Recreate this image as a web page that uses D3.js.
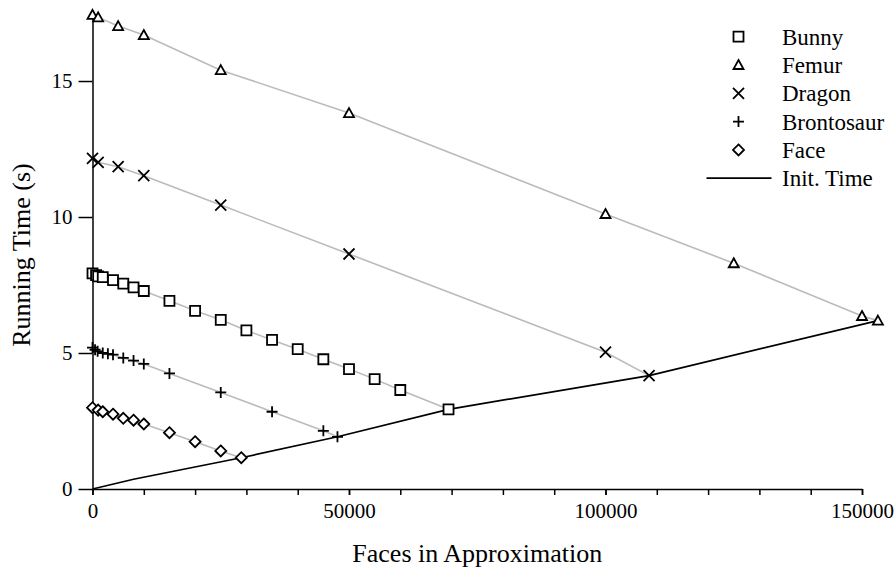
<!DOCTYPE html>
<html>
<head>
<meta charset="utf-8">
<script src="https://cdn.jsdelivr.net/npm/d3@7"></script>
<style>
  body { margin: 0; background: #fff; }
  svg text { fill: #000; }
  .axis path, .axis line { stroke: #000; stroke-width: 1.5; }
  .series-line { fill: none; stroke: #bbbbbb; stroke-width: 1.6; }
  .init-line { fill: none; stroke: #000; stroke-width: 1.7; }
  .marker { fill: #fff; stroke: #000; stroke-width: 1.8; }
</style>
</head>
<body>
<div id="chart"></div>
<script>
// values
var bunnyX = [0, 700, 1100, 2000, 4000, 6000, 8000, 10000, 15000, 20000, 25000, 30000, 35000, 40000, 45000, 50000, 55000, 60000, 69400];
var bunnyY = [7.93, 7.86, 7.82, 7.79, 7.68, 7.55, 7.41, 7.28, 6.92, 6.55, 6.22, 5.83, 5.48, 5.14, 4.77, 4.41, 4.04, 3.64, 2.93];

var femurX = [0, 1100, 5000, 10000, 25000, 50000, 100000, 125000, 150000, 153100];
var femurY = [17.43, 17.34, 17.02, 16.69, 15.40, 13.82, 10.11, 8.30, 6.36, 6.19];

var dragonX = [0, 1100, 5000, 10000, 25000, 50000, 100000, 108500];
var dragonY = [12.16, 12.01, 11.85, 11.52, 10.44, 8.64, 5.03, 4.17];

var brontoX = [0, 500, 1000, 2000, 3000, 4000, 6000, 8000, 10000, 15000, 25000, 35000, 45000, 47750];
var brontoY = [5.2, 5.12, 5.06, 5.0, 4.97, 4.94, 4.82, 4.72, 4.6, 4.25, 3.55, 2.84, 2.14, 1.92];

var faceX = [0, 1100, 2000, 4000, 6000, 8000, 10000, 15000, 20000, 25000, 29000];
var faceY = [2.99, 2.9, 2.84, 2.75, 2.6, 2.53, 2.39, 2.07, 1.74, 1.4, 1.15];

var initX = [0, 8000, 29000, 47750, 69400, 108500, 153100];
var initY = [0, 0.36, 1.15, 1.92, 2.93, 4.17, 6.19];

var xTicks = [0, 50000, 100000, 150000];
var xMinorTicks = d3.range(0, 150001, 10000);
var yTicks = [0, 5, 10, 15];

var seriesNames = ["Bunny", "Femur", "Dragon", "Brontosaur", "Face"];
var seriesShapes = ["square", "triangle", "x", "plus", "diamond"];

var series = [
  { name: "Bunny", shape: "square", xs: bunnyX, ys: bunnyY },
  { name: "Femur", shape: "triangle", xs: femurX, ys: femurY },
  { name: "Dragon", shape: "x", xs: dragonX, ys: dragonY },
  { name: "Brontosaur", shape: "plus", xs: brontoX, ys: brontoY },
  { name: "Face", shape: "diamond", xs: faceX, ys: faceY }
];

function zip(xs, ys) { return xs.map(function(x, i) { return [x, ys[i]]; }); }

//marker outlines, centred on 0,0
function markerPath(shape) {
  switch (shape) {
    case "square": return "M-5,-5H5V5H-5Z";
    case "triangle": return "M0,-5L5,4H-5Z";
    case "x": return "M-5.5,-5.5L5.5,5.5M-5.5,5.5L5.5,-5.5";
    case "plus": return "M-5.5,0H5.5M0,-5.5V5.5";
    case "diamond": return "M0,-5.5L5.5,0L0,5.5L-5.5,0Z";
  }
}

var width = 895, height = 571;
var serif = '"Liberation Serif", "Times New Roman", Times, "DejaVu Serif", serif';

var svg = d3.select("#chart")
  .append("svg")
  .attr("width", width)
  .attr("height", height)
  .attr("font-family", serif);

//Scales
var x = d3.scaleLinear().domain([0, 150000]).range([92.5, 862]);
var y = d3.scaleLinear().domain([0, 17.6]).range([489, 10.3]);

//x axis: minor ticks first, then the labelled ones
svg.append("g")
  .attr("class", "axis")
  .attr("transform", "translate(0," + y(0) + ")")
  .call(d3.axisBottom(x).tickValues(xMinorTicks).tickSize(6).tickSizeOuter(0).tickFormat(""));

svg.append("g")
  .attr("class", "axis x")
  .attr("transform", "translate(0," + y(0) + ")")
  .call(d3.axisBottom(x).tickValues(xTicks).tickSize(6).tickSizeOuter(0).tickPadding(8).tickFormat(d3.format("d")))
  .attr("font-family", serif)
  .call(function(g) { g.select(".domain").remove(); })
  .selectAll("text")
  .style("font-size", "21px");

svg.append("g")
  .attr("class", "axis y")
  .attr("transform", "translate(" + x(0) + ",0)")
  .call(d3.axisLeft(y).tickValues(yTicks).tickSize(14).tickSizeOuter(0).tickPadding(6))
  .attr("font-family", serif)
  .selectAll("text")
  .style("font-size", "21px");

//axis titles
svg.append("text")
  .attr("x", (x(0) + x(150000)) / 2)
  .attr("y", 562)
  .attr("text-anchor", "middle")
  .style("font-size", "26px")
  .text("Faces in Approximation");

svg.append("text")
  .attr("transform", "translate(30," + 255 + ") rotate(-90)")
  .attr("text-anchor", "middle")
  .style("font-size", "26px")
  .text("Running Time (s)");

var line = d3.line()
  .x(function(d) { return x(d[0]); })
  .y(function(d) { return y(d[1]); });

//grey connecting lines
svg.selectAll(".series-line")
  .data(series)
  .enter()
  .append("path")
  .attr("class", "series-line")
  .attr("d", function(d) { return line(zip(d.xs, d.ys)); });

//init time
svg.append("path")
  .attr("class", "init-line")
  .attr("d", line(zip(initX, initY)));

//markers
var serie = svg.selectAll(".serie")
  .data(series)
  .enter()
  .append("g")
  .attr("class", "serie");

serie.selectAll("path")
  .data(function(d) { return zip(d.xs, d.ys).map(function(p) { return { p: p, shape: d.shape }; }); })
  .enter()
  .append("path")
  .attr("class", "marker")
  .attr("transform", function(d) { return "translate(" + x(d.p[0]) + "," + y(d.p[1]) + ")"; })
  .attr("d", function(d) { return markerPath(d.shape); });

//legend
var legend = svg.append("g").attr("class", "legend");
var rowY = function(i) { return 36.7 + i * 28.3; };

seriesNames.forEach(function(name, i) {
  legend.append("path")
    .attr("class", "marker")
    .attr("transform", "translate(738.5," + rowY(i) + ")")
    .attr("d", markerPath(seriesShapes[i]));
  legend.append("text")
    .attr("x", 782)
    .attr("y", rowY(i))
    .attr("dy", "0.35em")
    .style("font-size", "23px")
    .text(name);
});

legend.append("line")
  .attr("x1", 706.5)
  .attr("x2", 771.5)
  .attr("y1", rowY(5))
  .attr("y2", rowY(5))
  .attr("stroke", "#000")
  .attr("stroke-width", 1.7);

legend.append("text")
  .attr("x", 782)
  .attr("y", rowY(5))
  .attr("dy", "0.35em")
  .style("font-size", "23px")
  .text("Init. Time");
</script>
</body>
</html>
